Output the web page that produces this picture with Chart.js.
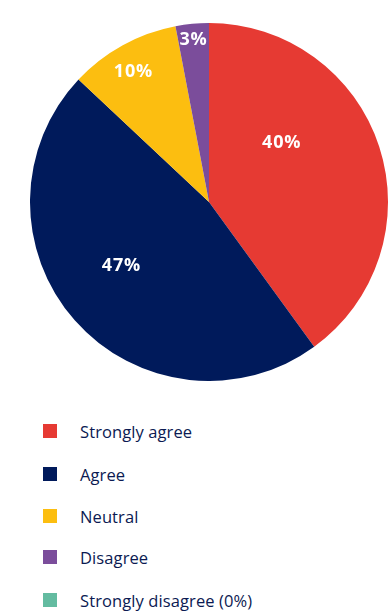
<!DOCTYPE html>
<html><head><meta charset="utf-8">
<script src="https://cdn.jsdelivr.net/npm/chart.js@4/dist/chart.umd.min.js"></script>
<style>
html,body{margin:0;padding:0;background:#fff;width:388px;height:611px;overflow:hidden;}
#wrap{position:absolute;left:30px;top:23px;width:358px;height:358px;}
#legend{position:absolute;left:43px;top:410px;font-family:"Open Sans",sans-serif;font-size:16.5px;color:#0b1a52;letter-spacing:0.1px;}
.item{position:absolute;left:0;height:20px;display:flex;align-items:center;white-space:nowrap;}
.box{width:14px;height:14px;margin-right:23px;}
</style></head>
<body>
<div id="wrap"><canvas id="c"></canvas></div>
<div id="legend"></div>
<script>
const categories = ["Strongly agree","Agree","Neutral","Disagree","Strongly disagree (0%)"];
const values = [40, 47, 10, 3, 0];
const colors = ["#E63A33","#001A5B","#FCBE10","#7B4D9B","#63BBA0"];
const labelRadius = [0.53, 0.60, 0.85, 0.92, 0];
const labelAngleShift = [-22, 6, -1, 0, 0];

const labelPlugin = {
  id:'sliceLabels',
  afterDatasetsDraw(chart){
    const ctx = chart.ctx;
    const meta = chart.getDatasetMeta(0);
    ctx.save();
    ctx.fillStyle = '#fff';
    ctx.font = 'bold 18px "Open Sans", sans-serif';
    if ('letterSpacing' in ctx) ctx.letterSpacing = '0.8px';
    ctx.textAlign = 'center';
    ctx.textBaseline = 'middle';
    meta.data.forEach((arc,i)=>{
      const v = values[i];
      if(!v) return;
      const p = arc.getProps(['x','y','startAngle','endAngle','outerRadius'],true);
      const a = (p.startAngle+p.endAngle)/2 + labelAngleShift[i]*Math.PI/180;
      const r = p.outerRadius*labelRadius[i];
      ctx.fillText(v+'%', p.x+Math.cos(a)*r, p.y+Math.sin(a)*r+2);
    });
    ctx.restore();
  }
};

const chart = new Chart(document.getElementById('c'),{
  type:'pie',
  data:{labels:categories,datasets:[{data:values,backgroundColor:colors,borderWidth:0}]},
  options:{
    responsive:true,maintainAspectRatio:false,animation:false,
    layout:{padding:0},
    plugins:{legend:{display:false},tooltip:{enabled:false}}
  },
  plugins:[labelPlugin]
});

const leg = document.getElementById('legend');
const rowTops = [0, 43, 85, 126, 169];
categories.forEach((c,i)=>{
  const d = document.createElement('div');
  d.className='item';
  d.style.top = (rowTops[i]+11)+'px';
  d.innerHTML = '<span class="box" style="background:'+colors[i]+'"></span><span></span>';
  d.lastChild.textContent = c;
  leg.appendChild(d);
});
</script>
</body></html>
